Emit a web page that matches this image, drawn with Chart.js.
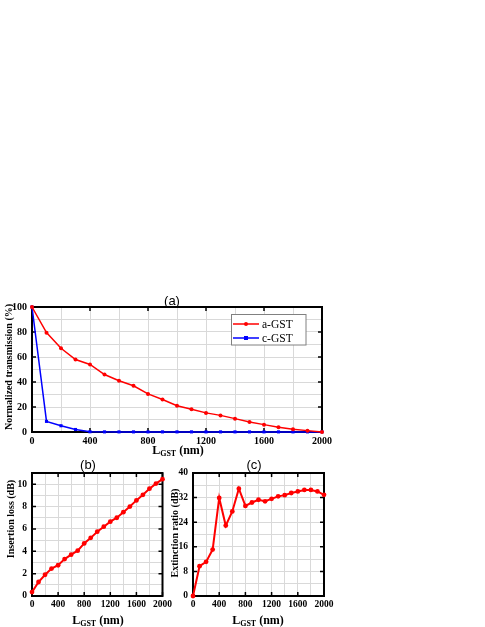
<!DOCTYPE html>
<html>
<head>
<meta charset="utf-8">
<script src="https://cdn.jsdelivr.net/npm/chart.js@4"></script>
<style>
  body { margin: 0; background: #fff; width: 485px; height: 627px; position: relative; overflow: hidden; }
  canvas { position: absolute; }
</style>
</head>
<body>
<canvas id="chart-a" width="345" height="170" style="left:0;top:290px"></canvas>
<canvas id="chart-b" width="175" height="172" style="left:0;top:455px"></canvas>
<canvas id="chart-c" width="175" height="172" style="left:165px;top:455px"></canvas>
<script>
// GST length (nm) and the measured curves
const lengths = [0, 100, 200, 300, 400, 500, 600, 700, 800, 900, 1000, 1100, 1200, 1300, 1400, 1500, 1600, 1700, 1800, 1900, 2000];
const aGST = [100, 79.5, 67, 58, 54, 46, 41, 37, 30.5, 26, 21, 18.2, 15.3, 13.3, 10.7, 8, 5.9, 3.8, 2.2, 1.1, 0];
const cGST = [100, 8.5, 5, 2, 0.2, 0.1, 0.1, 0.1, 0.1, 0.1, 0.1, 0.1, 0.1, 0.1, 0.1, 0.1, 0.1, 0.1, 0.1, 0.1, 0.1];
const insertionLoss = [0.35, 1.25, 1.9, 2.45, 2.75, 3.3, 3.7, 4.05, 4.7, 5.2, 5.75, 6.2, 6.65, 7.0, 7.5, 8.0, 8.55, 9.05, 9.6, 10.05, 10.45];
const extinctionRatio = [0, 9.7, 11.1, 15.1, 31.9, 22.9, 27.5, 34.9, 29.3, 30.4, 31.3, 30.8, 31.6, 32.4, 32.8, 33.5, 34, 34.5, 34.5, 34, 32.9];

// tick labels
const xTickLabels = [0, 400, 800, 1200, 1600, 2000];
const transmissionTicks = [0, 20, 40, 60, 80, 100];
const lossTicks = [0, 2, 4, 6, 8, 10];
const ratioTicks = [0, 8, 16, 24, 32, 40];

const serif = '"Liberation Serif", "Times New Roman", serif';
const toPoints = (ys) => lengths.map((x, i) => ({ x: x, y: ys[i] }));

// frame, inward ticks, titles and legend drawn on the canvas
const decor = (cfg) => ({
    id: 'decor',
    beforeDatasetsDraw(chart) {
        const { ctx, chartArea: a, scales } = chart;
        ctx.save();
        ctx.strokeStyle = '#000';
        ctx.lineWidth = 1.5;
        ctx.beginPath();
        xTickLabels.forEach((v) => {
            const px = scales.x.getPixelForValue(v);
            ctx.moveTo(px, a.bottom); ctx.lineTo(px, a.bottom - 4);
            ctx.moveTo(px, a.top); ctx.lineTo(px, a.top + 4);
        });
        cfg.yTicks.forEach((v) => {
            const py = scales.y.getPixelForValue(v);
            ctx.moveTo(a.left, py); ctx.lineTo(a.left + 4, py);
            ctx.moveTo(a.right, py); ctx.lineTo(a.right - 4, py);
        });
        ctx.stroke();
        ctx.lineWidth = 2;
        ctx.strokeRect(a.left, a.top, a.right - a.left, a.bottom - a.top);
        ctx.restore();
    },
    afterDraw(chart) {
        const { ctx, chartArea: a } = chart;
        ctx.save();
        ctx.fillStyle = '#000';

        // panel label
        ctx.font = '13px "Liberation Sans", Arial, sans-serif';
        ctx.textAlign = 'center';
        ctx.textBaseline = 'middle';
        ctx.fillText(cfg.panel, cfg.panelX, cfg.panelY);

        // x title: L_GST (nm)
        ctx.textAlign = 'left';
        ctx.textBaseline = 'alphabetic';
        const big = 'bold 12px ' + serif, small = 'bold 8px ' + serif;
        ctx.font = big; const w1 = ctx.measureText('L').width; const w3 = ctx.measureText(' (nm)').width;
        ctx.font = small; const w2 = ctx.measureText('GST').width;
        let x = cfg.xTitleX - (w1 + w2 + w3) / 2;
        ctx.font = big; ctx.fillText('L', x, cfg.xTitleY); x += w1;
        ctx.font = small; ctx.fillText('GST', x, cfg.xTitleY + 2); x += w2;
        ctx.font = big; ctx.fillText(' (nm)', x, cfg.xTitleY);

        // y title
        ctx.save();
        ctx.translate(cfg.yTitleX, cfg.yTitleY);
        ctx.rotate(-Math.PI / 2);
        ctx.font = 'bold ' + cfg.yTitleSize + 'px ' + serif;
        ctx.textAlign = 'center';
        ctx.textBaseline = 'middle';
        ctx.fillText(cfg.yTitle, 0, 0);
        ctx.restore();

        // legend box inside the plot
        if (cfg.legend) {
            const bx = a.right - 90.5, by = a.top + 7.5;
            ctx.fillStyle = '#fff';
            ctx.fillRect(bx, by, 74.5, 30.5);
            ctx.strokeStyle = '#808080';
            ctx.lineWidth = 1;
            ctx.strokeRect(bx, by, 74.5, 30.5);
            chart.data.datasets.forEach((ds, i) => {
                const ry = by + 9.5 + i * 14;
                ctx.strokeStyle = ds.borderColor;
                ctx.fillStyle = ds.borderColor;
                ctx.lineWidth = 1.5;
                ctx.beginPath();
                ctx.moveTo(bx + 1.5, ry); ctx.lineTo(bx + 27.5, ry);
                ctx.stroke();
                if (ds.pointStyle === 'rect') ctx.fillRect(bx + 12.5, ry - 2, 4, 4);
                else { ctx.beginPath(); ctx.arc(bx + 14.5, ry, 2, 0, Math.PI * 2); ctx.fill(); }
                ctx.fillStyle = '#000';
                ctx.font = '11.5px ' + serif;
                ctx.textAlign = 'left';
                ctx.textBaseline = 'middle';
                ctx.fillText(ds.label, bx + 30.5, ry + 0.5);
            });
        }
        ctx.restore();
    },
});

const makeChart = (id, datasets, cfg) => new Chart(document.getElementById(id), {
    type: 'line',
    data: { datasets: datasets },
    options: {
        responsive: false,
        animation: false,
        layout: { padding: { top: cfg.top, right: cfg.right, left: 0, bottom: 0 } },
        plugins: { legend: { display: false }, tooltip: { enabled: false } },
        scales: {
            x: {
                type: 'linear', min: 0, max: 2000,
                ticks: {
                    stepSize: 200, autoSkip: false, maxRotation: 0, padding: 3, color: '#000',
                    font: { family: serif, weight: 'bold', size: cfg.tickSize },
                    callback: (v) => (xTickLabels.includes(v) ? v : ''),
                },
                grid: { color: '#d9d9d9', drawTicks: false },
                border: { display: false },
                afterFit: (s) => { s.height = cfg.xh; },
            },
            y: {
                min: cfg.yMin, max: cfg.yMax,
                ticks: {
                    stepSize: cfg.yStep, autoSkip: false, padding: 5, color: '#000',
                    font: { family: serif, weight: 'bold', size: cfg.tickSize },
                    callback: (v) => (cfg.yTicks.includes(v) ? v : ''),
                },
                grid: { color: '#d9d9d9', drawTicks: false },
                border: { display: false },
                afterFit: (s) => { s.width = cfg.yw; },
            },
        },
    },
    plugins: [decor(cfg)],
});

// (a) normalized transmission
makeChart('chart-a', [
    {
        label: 'a-GST', data: toPoints(aGST), borderColor: '#ff0000', backgroundColor: '#ff0000',
        borderWidth: 1.5, pointRadius: 2, pointBorderWidth: 0, pointStyle: 'circle', tension: 0, clip: false,
    },
    {
        label: 'c-GST', data: toPoints(cGST), borderColor: '#0000ff', backgroundColor: '#0000ff',
        borderWidth: 1.5, pointRadius: 2.2, pointBorderWidth: 0, pointStyle: 'rect', tension: 0, clip: false,
    },
], {
    top: 17, right: 23, xh: 28, yw: 32, tickSize: 10,
    yMin: 0, yMax: 100, yStep: 10, yTicks: transmissionTicks,
    panel: '(a)', panelX: 172, panelY: 11,
    xTitleX: 178, xTitleY: 164,
    yTitle: 'Normalized transmission (%)', yTitleX: 9, yTitleY: 77, yTitleSize: 10,
    legend: true,
});

// (b) insertion loss
makeChart('chart-b', [{
    label: 'Insertion loss', data: toPoints(insertionLoss), borderColor: '#ff0000', backgroundColor: '#ff0000',
    borderWidth: 2, pointRadius: 2.4, pointBorderWidth: 0, tension: 0, clip: false,
}], {
    top: 18, right: 12, xh: 31, yw: 32, tickSize: 9.5,
    yMin: 0, yMax: 11, yStep: 1, yTicks: lossTicks,
    panel: '(b)', panelX: 88, panelY: 10,
    xTitleX: 98, xTitleY: 169,
    yTitle: 'Insertion loss (dB)', yTitleX: 11, yTitleY: 64, yTitleSize: 10,
    legend: false,
});

// (c) extinction ratio
makeChart('chart-c', [{
    label: 'Extinction ratio', data: toPoints(extinctionRatio), borderColor: '#ff0000', backgroundColor: '#ff0000',
    borderWidth: 2, pointRadius: 2.4, pointBorderWidth: 0, tension: 0, clip: false,
}], {
    top: 18, right: 16, xh: 31, yw: 28, tickSize: 9.5,
    yMin: 0, yMax: 40, yStep: 4, yTicks: ratioTicks,
    panel: '(c)', panelX: 89, panelY: 10,
    xTitleX: 93, xTitleY: 169,
    yTitle: 'Extinction ratio (dB)', yTitleX: 10, yTitleY: 78, yTitleSize: 10,
    legend: false,
});
</script>
</body>
</html>
